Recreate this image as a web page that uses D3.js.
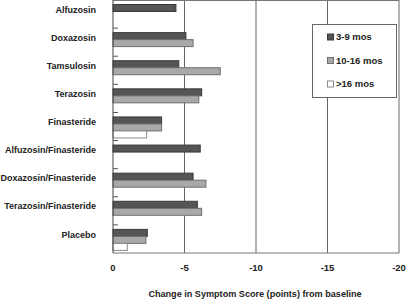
<!DOCTYPE html>
<meta charset="utf-8">
<style>
    body { margin: 0; background: white; }
    text { font-family: "Liberation Sans", Arial, sans-serif; fill: #222; }
</style>
<body>
<div id="chart"></div>
<script src="https://d3js.org/d3.v7.min.js"></script>
<script>
    // data
    var drugs = ["Alfuzosin", "Doxazosin", "Tamsulosin", "Terazosin", "Finasteride",
        "Alfuzosin/Finasteride", "Doxazosin/Finasteride", "Terazosin/Finasteride", "Placebo"];
    var periods = ["3-9 mos", "10-16 mos", ">16 mos"];
    var short = [-4.4, -5.1, -4.6, -6.2, -3.4, -6.1, -5.6, -5.9, -2.4];   // 3-9 mos
    var mid = [null, -5.6, -7.5, -6.0, -3.4, null, -6.5, -6.2, -2.3];     // 10-16 mos
    var long = [null, null, null, null, -2.35, null, null, null, -1.0];   // >16 mos
    var ticks = [0, -5, -10, -15, -20];

    var fills = ["#555555", "#a9a9a9", "#ffffff"];
    var strokes = ["#3a3a3a", "#6e6e6e", "#8a8a8a"];

    var width = 406, height = 299;

    var svg = d3.select("#chart").append("svg")
        .attr("width", width)
        .attr("height", height);

    var x = d3.scaleLinear().domain([0, -20]).range([113, 399]);
    var y0 = d3.scaleBand().domain(drugs).range([0, 253]);
    var y1 = d3.scaleBand().domain(periods).range([4.5, 25.5]);

    // grid lines
    svg.selectAll("line.grid")
        .data(ticks.slice(1))
        .enter().append("line")
        .attr("class", "grid")
        .attr("x1", function(d) { return x(d); })
        .attr("x2", function(d) { return x(d); })
        .attr("y1", 0)
        .attr("y2", 253)
        .style("stroke", "#666")
        .style("stroke-width", 1);

    // top + bottom frame
    svg.append("line").attr("x1", x(0)).attr("x2", x(-20)).attr("y1", 0.5).attr("y2", 0.5)
        .style("stroke", "#777");
    svg.append("line").attr("x1", x(0)).attr("x2", x(-20)).attr("y1", 253).attr("y2", 253)
        .style("stroke", "#777");

    // category separators on the y axis
    svg.selectAll("line.sep")
        .data(drugs.slice(1))
        .enter().append("line")
        .attr("class", "sep")
        .attr("x1", x(0))
        .attr("x2", x(0) + 5)
        .attr("y1", function(d) { return y0(d); })
        .attr("y2", function(d) { return y0(d); })
        .style("stroke", "#555");

    var series = [short, mid, long];
    var rows = [];
    series.forEach(function(vals, s) {
        vals.forEach(function(v, i) {
            if (v !== null) rows.push({ drug: drugs[i], period: periods[s], s: s, v: v });
        });
    });

    svg.selectAll("rect.bar")
        .data(rows)
        .enter().append("rect")
        .attr("class", "bar")
        .attr("x", x(0))
        .attr("y", function(d) { return y0(d.drug) + y1(d.period); })
        .attr("width", function(d) { return x(d.v) - x(0); })
        .attr("height", y1.bandwidth())
        .style("fill", function(d) { return fills[d.s]; })
        .style("stroke", function(d) { return strokes[d.s]; })
        .style("stroke-width", 1);

    // y axis line
    svg.append("line").attr("x1", x(0)).attr("x2", x(0)).attr("y1", 0).attr("y2", 253)
        .style("stroke", "#444");

    // category labels
    svg.selectAll("text.cat")
        .data(drugs)
        .enter().append("text")
        .attr("class", "cat")
        .attr("x", 96)
        .attr("y", function(d) { return y0(d) + y0.bandwidth() / 2 - 4.5; })
        .attr("dy", "0.35em")
        .attr("text-anchor", "end")
        .style("font-size", "9px")
        .style("font-weight", "bold")
        .text(function(d) { return d; });

    // x tick labels
    svg.selectAll("text.tick")
        .data(ticks)
        .enter().append("text")
        .attr("class", "tick")
        .attr("x", function(d) { return x(d); })
        .attr("y", 270.5)
        .attr("text-anchor", "middle")
        .style("font-size", "9.5px")
        .style("font-weight", "bold")
        .text(function(d) { return d === 0 ? "0" : "-" + Math.abs(d); });

    svg.append("text")
        .attr("x", 255)
        .attr("y", 297)
        .attr("text-anchor", "middle")
        .style("font-size", "9.1px")
        .style("font-weight", "bold")
        .text("Change in Symptom Score (points) from baseline");

    // legend
    var lg = svg.append("g");
    lg.append("rect")
        .attr("x", 312.5).attr("y", 24.5)
        .attr("width", 84).attr("height", 73)
        .style("fill", "white")
        .style("stroke", "#666");
    var ly = d3.scalePoint().domain(periods).range([37, 84]);
    lg.selectAll("rect.key")
        .data(periods)
        .enter().append("rect")
        .attr("class", "key")
        .attr("x", 327.5)
        .attr("y", function(d) { return ly(d) - 3; })
        .attr("width", 6).attr("height", 6)
        .style("fill", function(d, i) { return fills[i]; })
        .style("stroke", function(d, i) { return strokes[i]; });
    lg.selectAll("text.key")
        .data(periods)
        .enter().append("text")
        .attr("class", "key")
        .attr("x", 336)
        .attr("y", function(d) { return ly(d); })
        .attr("dy", "0.35em")
        .style("font-size", "9.5px")
        .style("font-weight", "bold")
        .text(function(d) { return d; });
</script>
</body>
</html>
